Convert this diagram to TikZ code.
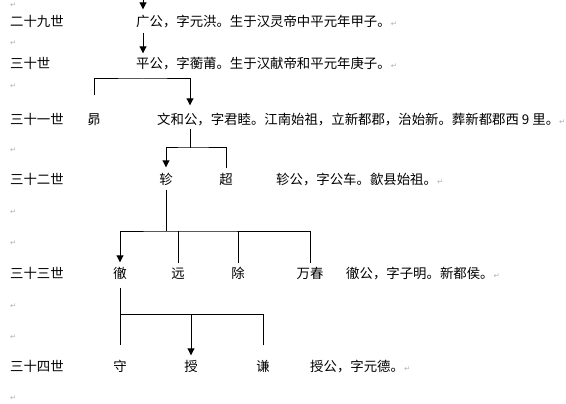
\documentclass[tikz,border=0pt]{standalone}
\usepackage{fontspec}
\usepackage{xcolor}
\usepackage{tikz}
\usetikzlibrary{arrows.meta, positioning}
\newfontfamily\cjk{Noto Sans CJK SC}
\newfontfamily\symb{DejaVu Sans}
\newcommand{\parmark}{{\symb\color{gray!60}\fontsize{7.5}{7.5}\selectfont ↵}}

\begin{document}
\begin{tikzpicture}[
    x=1pt, y=-1pt,
    txt/.style={anchor=west, inner sep=0pt, text height=11pt, text depth=2pt, font=\cjk\fontsize{13.4}{13.4}\selectfont},
    who/.style={inner sep=0pt, text height=11pt, text depth=2pt, font=\cjk\fontsize{13.4}{13.4}\selectfont},
    pmark/.style={anchor=west, inner sep=0pt, text=gray!60, font=\symb\fontsize{7.5}{7.5}\selectfont},
    link/.style={line width=1pt},
    arrow/.style={link, -{Triangle[length=7pt, width=7pt]}}
]
    \useasboundingbox (0,0) rectangle (566,404);

    % paragraph marks down the left margin
    \foreach \y in {5,43,86,150,212,243,306,337,398}
        \node[pmark] (p\y) at (10,\y) {↵};

    % generations
    \node[txt] (g29) at (10,22)  {二十九世};
    \node[txt] (g30) at (10,64)  {三十世};
    \node[txt] (g31) at (10,120) {三十一世};
    \node[txt] (g32) at (10,180) {三十二世};
    \node[txt] (g33) at (10,274) {三十三世};
    \node[txt] (g34) at (10,367) {三十四世};

    % notes
    \node[txt] (guang) at (136,22)  {广公，字元洪。生于汉灵帝中平元年甲子。\parmark};
    \node[txt] (ping)  at (136,64)  {平公，字蘅莆。生于汉献帝和平元年庚子。\parmark};
    \node[txt] (wenhe) at (157,120) {文和公，字君睦。江南始祖，立新都郡，治始新。葬新都郡西 9 里。\parmark};
    \node[txt] (zhennote) at (276,180) {轸公，字公车。歙县始祖。\parmark};
    \node[txt] (chenote)  at (346,274) {徹公，字子明。新都侯。\parmark};
    \node[txt] (shounote) at (310,367) {授公，字元德。\parmark};

    % names
    \node[who] (mao)     at (94,120)  {昴};
    \node[who] (zhen)    at (166,180) {轸};
    \node[who] (chao)    at (226,180) {超};
    \node[who] (che)     at (120,274) {徹};
    \node[who] (yuan)    at (178,274) {远};
    \node[who] (chu)     at (238,274) {除};
    \node[who] (wanchun) at (310,274) {万春};
    \node[who] (shouA)   at (120,367) {守};
    \node[who] (shouB)   at (191,367) {授};
    \node[who] (qian)    at (263,367) {谦};

    \coordinate (top)   at (143,0);
    \coordinate (wx)    at ([xshift=33pt]wenhe.west);
    \coordinate (bar31) at (143,79);
    \coordinate (bar32) at (190,148);
    \coordinate (bar33) at (166,231);
    \coordinate (bar34) at (120,314);

    % 29 -> 30
    \draw[arrow, shorten >=6pt] (top) -- (top |- guang.north);
    \draw[arrow, shorten <=4pt, shorten >=4pt] (top |- guang.south) -- (top |- ping.north);
    % 31
    \draw[arrow, shorten <=18pt, shorten >=8pt] (mao.north) |- (bar31) -| (wx |- wenhe.north);
    % 32
    \draw[link, shorten <=2pt] (wx |- wenhe.south) -- (bar32);
    \draw[arrow, shorten <=5pt, shorten >=6pt] (chao.north) |- (bar32) -| (zhen.north);
    % 33
    \draw[link, shorten <=3pt] (zhen.south) -- (bar33);
    \draw[arrow, shorten <=4pt, shorten >=5pt] (wanchun.north) |- (bar33) -| (che.north);
    \foreach \n in {yuan, chu}
        \draw[link, shorten <=4pt] (\n.north) -- (\n |- bar33);
    % 34
    \draw[link, shorten <=7pt, shorten >=15pt] (che.south) -- (shouA.north);
    \draw[link, shorten <=15pt] (qian.north) |- (bar34);
    \draw[arrow, shorten >=5pt] (shouB |- bar34) -- (shouB.north);
\end{tikzpicture}
\end{document}
